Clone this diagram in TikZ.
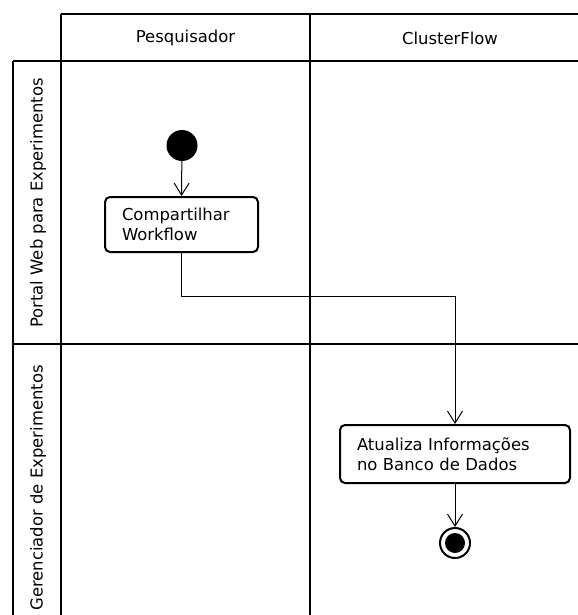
\documentclass[tikz,border=0pt]{standalone}
\usepackage{fontspec}
\setmainfont{DejaVu Sans}
\usetikzlibrary{arrows.meta}
\begin{document}
\begin{tikzpicture}[x=1bp,y=-1bp,
  lane/.style={line width=2.5bp},
  act/.style={draw,line width=2bp,rounded corners=5bp,align=left,font=\fontsize{16.5}{20.5}\selectfont,inner xsep=17bp,anchor=center},
  flow/.style={line width=1bp,-{Straight Barb[length=12bp,width=15bp,line width=1bp]}},
  lbl/.style={font=\fontsize{16.5}{20}\selectfont}]
\useasboundingbox (0,0) rectangle (578,615);
% swimlane grid
\draw[lane] (61,14) -- (578,14);
\draw[lane] (13,61) -- (578,61);
\draw[lane] (13,344) -- (578,344);
\draw[lane] (13,61) -- (13,615);
\draw[lane] (61,14) -- (61,615);
\draw[lane] (310,14) -- (310,615);
% headers
\node[lbl] (h1) at (185.5,38) {Pesquisador};
\node[lbl] (h2) at (450,38) {ClusterFlow};
\node[lbl,rotate=90] (r1) at (38,203) {Portal Web para Experimentos};
\node[lbl,rotate=90] (r2) at (38,488) {Gerenciador de Experimentos};
% nodes
\node[circle,fill=black,minimum size=31bp,inner sep=0] (start) at (182,145.5) {};
\node[act,minimum width=153bp,minimum height=55bp,text width=119bp] (A) at (181.5,224.5) {Compartilhar\\Workflow};
\node[act,minimum width=230bp,minimum height=58bp,text width=196bp] (B) at (455,454) {Atualiza Informações\\no Banco de Dados};
\node[circle,draw,line width=2bp,minimum size=30bp,inner sep=0] (end) at (455,543) {};
\node[circle,fill=black,minimum size=20bp,inner sep=0] (endin) at (end.center) {};
\coordinate (bend) at (455,296);
% flows
\draw[flow] (start) -- (A.north);
\draw[flow] (A.south) |- (bend) -- (B.north -| bend);
\draw[flow] (B.south -| end) -- (end.north);
\end{tikzpicture}
\end{document}
